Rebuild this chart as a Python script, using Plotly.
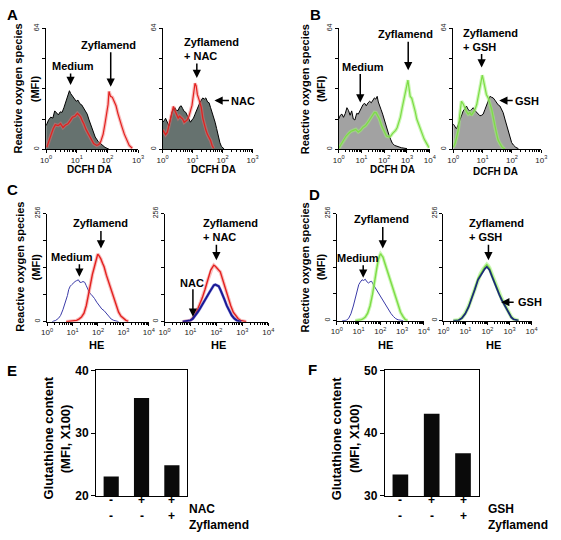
import math
import plotly.graph_objects as go

W, H = 561, 540
FONT = "Liberation Sans, Arial, sans-serif"

# ---------------- data (x in decades of fluorescence, y = counts) ----------------
A1_med_x = [0.0,0.08,0.15,0.22,0.28,0.34,0.40,0.46,0.52,0.58,0.64,0.70,0.76,0.80,0.86,0.92,0.98,1.04,1.10,1.16,1.22,1.28,1.34,1.40,1.46,1.52,1.60,1.70,1.80,1.92,2.05]
A1_med_y = [12.5,15.5,17.0,16.5,20.3,19.0,18.2,19.8,19.5,22.0,25.4,27.5,31.0,29.5,28.0,26.5,25.4,26.0,24.1,23.5,22.0,20.0,18.6,15.5,12.5,9.5,6.5,4.0,2.5,1.0,0.0]
A1_zyf_x = [0.02,0.08,0.13,0.18,0.23,0.30,0.39,0.47,0.55,0.63,0.71,0.78,0.86,0.94,1.02,1.08,1.13,1.18,1.23,1.30,1.39,1.47,1.55,1.65,1.72,1.78,1.86,1.92,1.97,2.02,2.05,2.10,2.16,2.22,2.28,2.34,2.39,2.47,2.55,2.63,2.71,2.81]
A1_zyf_y = [1.0,4.0,6.7,9.0,10.8,13.0,12.5,13.5,11.5,12.8,13.5,15.0,17.0,17.5,19.0,18.0,17.0,15.0,13.5,10.5,7.7,5.0,3.0,2.0,2.5,4.0,8.0,13.5,19.0,23.7,30.6,28.0,27.5,25.0,23.0,19.0,16.0,12.0,8.0,5.0,2.0,0.5]

A2_nac_x = [0.0,0.05,0.10,0.16,0.21,0.26,0.31,0.36,0.41,0.46,0.52,0.57,0.62,0.67,0.72,0.77,0.82,0.88,0.93,0.98,1.03,1.08,1.13,1.18,1.24,1.29,1.34,1.39,1.44,1.50,1.55,1.60,1.65,1.70,1.75,1.80,1.86,1.91,1.96,2.06]
A2_nac_y = [14.3,15.0,16.4,14.0,12.4,16.0,19.6,21.0,22.0,20.5,20.6,22.5,23.0,21.5,20.0,19.6,18.0,16.0,14.3,15.5,16.5,18.5,20.6,23.0,24.6,26.0,27.2,26.5,27.2,25.0,24.6,22.0,19.6,17.0,14.3,11.0,5.7,3.5,1.5,0.0]
A2_zyf_x = [0.0,0.05,0.10,0.16,0.21,0.28,0.36,0.41,0.46,0.52,0.57,0.62,0.67,0.72,0.77,0.82,0.88,0.93,0.98,1.03,1.08,1.12,1.16,1.22,1.29,1.34,1.39,1.44,1.49,1.55,1.60,1.65,1.70]
A2_zyf_y = [10.3,9.0,7.7,9.0,12.4,18.0,22.7,20.5,19.0,16.5,17.5,16.8,16.0,14.3,15.0,15.5,17.5,20.0,23.2,29.0,34.9,33.5,28.9,26.0,22.0,16.5,13.0,10.3,8.0,6.0,4.6,2.0,0.5]

B1_med_x = [0.0,0.07,0.14,0.21,0.29,0.36,0.43,0.50,0.57,0.64,0.71,0.79,0.86,0.93,1.0,1.07,1.14,1.21,1.29,1.36,1.43,1.50,1.57,1.63,1.69,1.74,1.79,1.86,1.93,2.0,2.07,2.14,2.21,2.29,2.36,2.46,2.57,2.75,3.0]
B1_med_y = [16.0,18.0,18.6,16.9,19.0,22.0,20.5,18.0,20.3,16.0,15.5,19.0,18.6,20.5,22.0,23.7,24.3,23.0,24.6,25.4,24.6,26.0,27.2,26.5,28.0,25.0,23.7,21.0,18.6,15.5,12.5,10.0,7.4,5.0,3.1,2.0,1.4,0.8,0.3]
B1_zyf_x = [0.0,0.1,0.21,0.32,0.43,0.54,0.64,0.75,0.86,0.96,1.07,1.18,1.29,1.40,1.50,1.57,1.64,1.71,1.79,1.90,2.0,2.10,2.21,2.29,2.36,2.43,2.50,2.57,2.64,2.71,2.79,2.86,2.93,2.98,3.04,3.09,3.14,3.21,3.29,3.36,3.43,3.54,3.64,3.75,3.86,3.97]
B1_zyf_y = [0.5,2.5,4.8,7.0,8.3,9.5,10.0,10.5,9.1,10.0,11.7,12.5,14.3,16.5,18.6,19.5,19.4,18.0,16.0,12.0,9.0,7.0,6.5,7.0,8.3,9.0,10.0,11.5,14.3,17.0,22.0,25.5,29.8,33.0,36.6,33.0,28.0,27.0,23.7,20.0,16.0,12.0,8.5,5.5,3.1,0.8]

B2_gsh_x = [0.0,0.06,0.11,0.17,0.23,0.28,0.34,0.40,0.45,0.51,0.57,0.62,0.68,0.74,0.80,0.85,0.91,0.97,1.02,1.08,1.14,1.20,1.25,1.31,1.36,1.42,1.48,1.53,1.59,1.65,1.70,1.76,1.82,1.88,1.93,1.99,2.05,2.13,2.22]
B2_gsh_y = [13.4,12.0,10.8,13.0,16.0,18.5,20.3,21.5,22.9,21.0,20.3,21.0,22.0,20.5,19.4,18.5,17.7,18.0,18.6,21.0,23.7,26.0,28.0,27.5,27.2,26.0,24.6,23.5,22.9,21.0,19.4,16.0,12.5,9.0,5.7,3.5,2.2,1.0,0.3]
B2_zyf_x = [0.0,0.06,0.11,0.17,0.22,0.28,0.34,0.40,0.45,0.51,0.57,0.62,0.68,0.74,0.80,0.85,0.91,0.95,0.99,1.03,1.08,1.13,1.19,1.25,1.31,1.36,1.42,1.48,1.53,1.59,1.65,1.70,1.76]
B2_zyf_y = [1.0,3.0,6.0,10.0,18.0,25.4,24.0,21.2,20.0,18.6,19.5,18.0,19.4,21.0,23.7,28.0,32.3,36.0,39.2,36.5,32.3,29.0,27.2,24.0,21.2,17.0,11.7,8.0,4.8,3.0,1.4,0.6,0.2]

C1_med_x = [0.2,0.34,0.45,0.53,0.62,0.72,0.80,0.85,0.91,0.97,1.03,1.10,1.16,1.23,1.29,1.35,1.41,1.48,1.54,1.61,1.67,1.73,1.80,1.86,1.95,2.05,2.15,2.24,2.34,2.43,2.52,2.62,2.72,2.81]
C1_med_y = [0,3,8,14.6,28,45,62,76,84,87.6,92,95,97,99,93,93,95,93,85,76,68,64.6,60.7,55,46,37.7,30,26,19,10.8,6,3,1,0]
C1_zyf_x = [0.75,0.91,1.04,1.16,1.25,1.35,1.45,1.54,1.62,1.70,1.78,1.86,1.92,1.99,2.05,2.11,2.18,2.24,2.33,2.43,2.52,2.62,2.71,2.81,2.90,3.0,3.1,3.19]
C1_zyf_y = [0,0.8,1.5,3,6,10.8,20,37.7,62,91.4,112,129.8,145,160,155,149,138,129.8,110,91.4,72,53,37,22.3,13,6.9,3,0.8]

C2_nac_x = [0.7,0.9,1.0,1.09,1.19,1.28,1.37,1.46,1.56,1.65,1.74,1.84,1.90,1.96,2.02,2.09,2.15,2.21,2.30,2.40,2.49,2.59,2.68,2.78,2.87,2.96]
C2_nac_y = [0,0.8,3,6.9,14,22.3,31,41.5,50,60.7,70,80,86,87.6,86,83.8,76,68.4,54,37.7,26,14.6,8,3,1.2,0]
C2_zyf_x = [0.7,0.9,1.0,1.09,1.19,1.28,1.37,1.46,1.56,1.65,1.72,1.78,1.84,1.90,1.96,2.03,2.09,2.15,2.21,2.28,2.37,2.46,2.55,2.65,2.74,2.84,2.93,3.03,3.15]
C2_zyf_y = [0,0.8,3,8.5,18,30,43,56.9,76,95.3,110,122,128,133.6,131,126,121,118,106,91.4,72,53,38,22.3,14,6.9,3,0.8,0]

D1_med_x = [0.25,0.43,0.54,0.65,0.76,0.87,0.94,1.01,1.08,1.16,1.23,1.31,1.38,1.46,1.53,1.60,1.68,1.75,1.82,1.90,1.97,2.04,2.15,2.26,2.37,2.49,2.60,2.71,2.82,2.93,3.05]
D1_med_y = [0,0.7,5,16.3,35,59,74,86,92,97.7,96,99,93,90,93,94,86,80,74.5,66,59,54,45,35.7,26,17,10,4.7,2,0.5,0]
D1_zyf_x = [0.85,1.09,1.2,1.31,1.42,1.53,1.64,1.75,1.82,1.90,1.96,2.01,2.06,2.12,2.19,2.26,2.37,2.49,2.60,2.71,2.82,2.93,3.04,3.15,3.25]
D1_zyf_y = [0,1.5,4,8.5,18,35.7,62,97.7,122,144.3,154,159.8,156,152,140,128.7,110,90,70,51.2,35,20,10,2.3,0]

D2_x = [0.45,0.69,0.84,0.99,1.14,1.28,1.43,1.57,1.68,1.79,1.88,1.97,2.03,2.09,2.20,2.31,2.42,2.53,2.64,2.75,2.86,2.97,3.08,3.19,3.30,3.41]
D2_gsh_y = [0,0.7,6,16.3,32,51.2,75,97.7,108,117,124,128.7,125,121,106,90,76,62.8,50,39.5,28,16.3,8,3.1,1,0]
D2_zyf_y = [0,1.5,7,18,34,54,78,101,112,122,129,134,131,126,111,95,80,66,53,42,30,18,9,3.5,1.2,0]

# bar panels
E_values = [23.1, 35.6, 24.9]
F_values = [33.4, 43.1, 36.8]
E_row1 = ["-", "+", "+"]   # NAC
F_row1 = ["-", "+", "+"]   # GSH
row2 = ["-", "-", "+"]     # Zyflamend
E_yticks = [20, 30, 40]
F_yticks = [30, 40, 50]

# ---------------- layout helpers ----------------
def xdom(a, b):
    return [a / W, b / W]

def ydom(top, bottom):
    return [1 - bottom / H, 1 - top / H]

def PX(x):
    return x / W

def PY(y):
    return 1 - y / H

fig = go.Figure()
layout = dict(width=W, height=H, margin=dict(l=0, r=0, t=0, b=0),
              paper_bgcolor="white", plot_bgcolor="white",
              font=dict(family=FONT, color="black"), showlegend=False)

# (id, left, right, top, bottom, decades, ymax)
hist_panels = [
    (1, 41, 135, 22, 146, 3, 64),
    (2, 160, 252, 22, 146, 3, 64),
    (3, 340, 433, 22, 146, 4, 64),
    (4, 457, 547, 22, 146, 3, 64),
    (5, 42, 146, 212, 323, 4, 256),
    (6, 162, 268, 212, 323, 4, 256),
    (7, 338, 427, 212, 322, 4, 256),
    (8, 447, 537, 212, 322, 4, 256),
]

for (i, l, r, t, b, dec, ymax) in hist_panels:
    xk = "xaxis" if i == 1 else f"xaxis{i}"
    yk = "yaxis" if i == 1 else f"yaxis{i}"
    minor_vals = [d + math.log10(k) for d in range(dec) for k in range(2, 10)]
    layout[xk] = dict(domain=xdom(l, r), anchor="y" if i == 1 else f"y{i}",
                      range=[0, dec], tickmode="array",
                      tickvals=list(range(dec + 1)),
                      ticktext=[f"10<sup>{k}</sup>" for k in range(dec + 1)],
                      ticks="outside", ticklen=3, tickwidth=1, tickcolor="black",
                      showline=True, linecolor="black", linewidth=1,
                      showgrid=False, zeroline=False,
                      tickfont=dict(size=8, color="#222"),
                      minor=dict(tickmode="array", tickvals=minor_vals, ticks="outside",
                                 ticklen=2, tickwidth=1, tickcolor="black", showgrid=False))
    q = ymax // 4
    layout[yk] = dict(domain=ydom(t, b), anchor="x" if i == 1 else f"x{i}",
                      range=[0, ymax], tickmode="array",
                      tickvals=[0, q, 2 * q, 3 * q, ymax],
                      ticktext=["0", "", "", "", str(ymax)], tickangle=-90,
                      ticks="outside", ticklen=3, tickwidth=1, tickcolor="black",
                      showline=True, linecolor="black", linewidth=1,
                      showgrid=False, zeroline=False,
                      tickfont=dict(size=7, color="#222"))

# bar axes
for (i, l, r, yt) in [(9, 92, 185, E_yticks), (10, 387, 483, F_yticks)]:
    layout[f"xaxis{i}"] = dict(domain=xdom(l, r), anchor=f"y{i}", range=[-0.5, 2.5],
                               showticklabels=False, ticks="", showline=True, mirror=True,
                               linecolor="black", linewidth=1, showgrid=False, zeroline=False)
    layout[f"yaxis{i}"] = dict(domain=ydom(373, 502), anchor=f"x{i}", range=[yt[0], yt[-1]],
                               tickmode="array", tickvals=yt, ticks="outside", ticklen=4,
                               tickcolor="black", showline=True, mirror=True,
                               linecolor="black", linewidth=1, showgrid=False, zeroline=False,
                               tickfont=dict(size=12, weight="bold"))

def ax(i):
    return ("x" if i == 1 else f"x{i}", "y" if i == 1 else f"y{i}")

def filled(i, x, y, color):
    xa, ya = ax(i)
    fig.add_trace(go.Scatter(x=x, y=y, xaxis=xa, yaxis=ya, mode="lines", fill="tozeroy",
                             fillcolor=color, line=dict(color="black", width=1),
                             hoverinfo="skip"))

def line(i, x, y, color, width, halo=None, halo_w=3.5):
    xa, ya = ax(i)
    if halo:
        fig.add_trace(go.Scatter(x=x, y=y, xaxis=xa, yaxis=ya, mode="lines",
                                 line=dict(color=halo, width=halo_w), hoverinfo="skip"))
    fig.add_trace(go.Scatter(x=x, y=y, xaxis=xa, yaxis=ya, mode="lines",
                             line=dict(color=color, width=width), hoverinfo="skip"))

GRAY_A = "#66726f"
GRAY_B = "#a2a2a2"
RED = "#e3201e"
RED_H = "rgba(240,110,110,0.45)"
GREEN = "#7ddc45"
GREEN_H = "rgba(160,240,120,0.55)"
BLUE_THIN = "#3b3ba8"
BLUE_DARK = "#1a1a96"
NAVY = "#1b2a78"

filled(1, A1_med_x, A1_med_y, GRAY_A)
line(1, A1_zyf_x, A1_zyf_y, RED, 1.2, RED_H)
filled(2, A2_nac_x, A2_nac_y, GRAY_A)
line(2, A2_zyf_x, A2_zyf_y, RED, 1.2, RED_H)
filled(3, B1_med_x, B1_med_y, GRAY_B)
line(3, B1_zyf_x, B1_zyf_y, GREEN, 1.2, GREEN_H)
filled(4, B2_gsh_x, B2_gsh_y, GRAY_B)
line(4, B2_zyf_x, B2_zyf_y, GREEN, 1.2, GREEN_H)
line(5, C1_med_x, C1_med_y, BLUE_THIN, 1)
line(5, C1_zyf_x, C1_zyf_y, RED, 1.4, RED_H, 3.5)
line(6, C2_zyf_x, C2_zyf_y, RED, 1.4, RED_H, 3.5)
line(6, C2_nac_x, C2_nac_y, BLUE_DARK, 2, "rgba(90,90,200,0.5)", 3)
line(7, D1_med_x, D1_med_y, BLUE_THIN, 1)
line(7, D1_zyf_x, D1_zyf_y, GREEN, 1.4, GREEN_H, 3.5)
line(8, D2_x, D2_zyf_y, GREEN, 1.5, GREEN_H, 4)
line(8, D2_x, D2_gsh_y, NAVY, 1.8)

fig.add_trace(go.Bar(x=[0, 1, 2], y=E_values, xaxis="x9", yaxis="y9", width=0.5,
                     marker=dict(color="#0a0a0a", line=dict(width=0)), hoverinfo="skip"))
fig.add_trace(go.Bar(x=[0, 1, 2], y=F_values, xaxis="x10", yaxis="y10", width=0.5,
                     marker=dict(color="#0a0a0a", line=dict(width=0)), hoverinfo="skip"))

ann = []

def T(x, y, text, size=11, xanchor="center", align="center", angle=0):
    ann.append(dict(x=PX(x), y=PY(y), xref="paper", yref="paper", text=text,
                    showarrow=False, xanchor=xanchor, yanchor="middle", align=align,
                    textangle=angle, font=dict(size=size, weight="bold", color="black")))

def A(tx, ty, sx, sy):
    # tip at (tx, ty), tail at (sx, sy), pixel coordinates
    ann.append(dict(x=PX(tx), y=PY(ty), xref="paper", yref="paper",
                    axref="pixel", ayref="pixel", ax=sx - tx, ay=sy - ty,
                    text="", showarrow=True, arrowhead=2,
                    arrowsize=1.1, arrowwidth=1.5, arrowcolor="black",
                    standoff=0, startstandoff=0))

# panel letters
for (lx, ly, lt) in [(7, 8, "A"), (316, 8, "B"), (7, 187, "C"), (315, 193, "D"),
                     (6, 373, "E"), (313, 372, "F")]:
    T(lx, ly, lt, size=15)

# y titles
for (x1, x2, yc) in [(12, 29, 84), (305, 322, 84), (14, 31, 267), (306, 322, 267)]:
    T(x1, yc, "Reactive oxygen species", size=11, angle=-90)
    T(x2, yc, "(MFI)", size=11, angle=-90)
for (x1, x2, yc) in [(43, 61, 443), (338, 356, 443)]:
    T(x1, yc, "Glutathione content", size=13, angle=-90)
    T(x2, yc, "(MFI, X100)", size=13, angle=-90)

# x titles
for (x, y) in [(85, 167), (212, 167), (395, 167), (500, 169)]:
    T(x, y, "DCFH DA", size=10)
for (x, y) in [(92, 347), (217, 347), (388, 347), (498, 347)]:
    T(x, y, "HE", size=11)

# panel A
T(105, 39, "Zyflamend"); A(107, 82, 107, 46)
T(68, 61, "Medium"); A(66, 80, 66, 67)
T(180, 43, "Zyflamend<br>+ NAC", xanchor="left", align="left"); A(195, 73, 195, 57)
T(242, 96, "NAC"); A(213, 96, 229, 96)
# panel B
T(408, 28, "Zyflamend"); A(411, 65, 411, 35)
T(365, 62, "Medium"); A(362, 98, 362, 68)
T(465, 34, "Zyflamend<br>+ GSH", xanchor="left", align="left"); A(486, 62, 486, 47)
T(532, 96, "GSH"); A(504, 96, 519, 96)
# panel C
T(97, 222, "Zyflamend"); A(97, 248, 97, 229)
T(67, 257, "Medium"); A(75, 277, 75, 263)
T(199, 229, "Zyflamend<br>+ NAC", xanchor="left", align="left"); A(215, 260, 215, 243)
T(190, 283, "NAC"); A(191, 318, 191, 289)
# panel D
T(384, 218, "Zyflamend"); A(385, 248, 385, 225)
T(360, 258, "Medium"); A(365, 278, 365, 264)
T(471, 229, "Zyflamend<br>+ GSH", xanchor="left", align="left"); A(493, 260, 493, 243)
T(535, 303, "GSH"); A(506, 303, 520, 303)

# bar sign rows
for (xa, r1, name1, lx) in [("x9", E_row1, "NAC", 185), ("x10", F_row1, "GSH", 490)]:
    for k in range(3):
        ann.append(dict(x=k, y=PY(515), xref=xa, yref="paper", text=r1[k], showarrow=False,
                        font=dict(size=12, weight="bold")))
        ann.append(dict(x=k, y=PY(532), xref=xa, yref="paper", text=row2[k], showarrow=False,
                        font=dict(size=12, weight="bold")))
    T(lx, 515, name1, size=12, xanchor="left")
    T(lx, 532, "Zyflamend", size=12, xanchor="left")

layout["annotations"] = ann
fig.update_layout(**layout)
fig.write_html("out.html", config={"displayModeBar": False, "staticPlot": True},
               post_script="document.body.style.margin='0px';document.body.style.overflow='hidden';")
